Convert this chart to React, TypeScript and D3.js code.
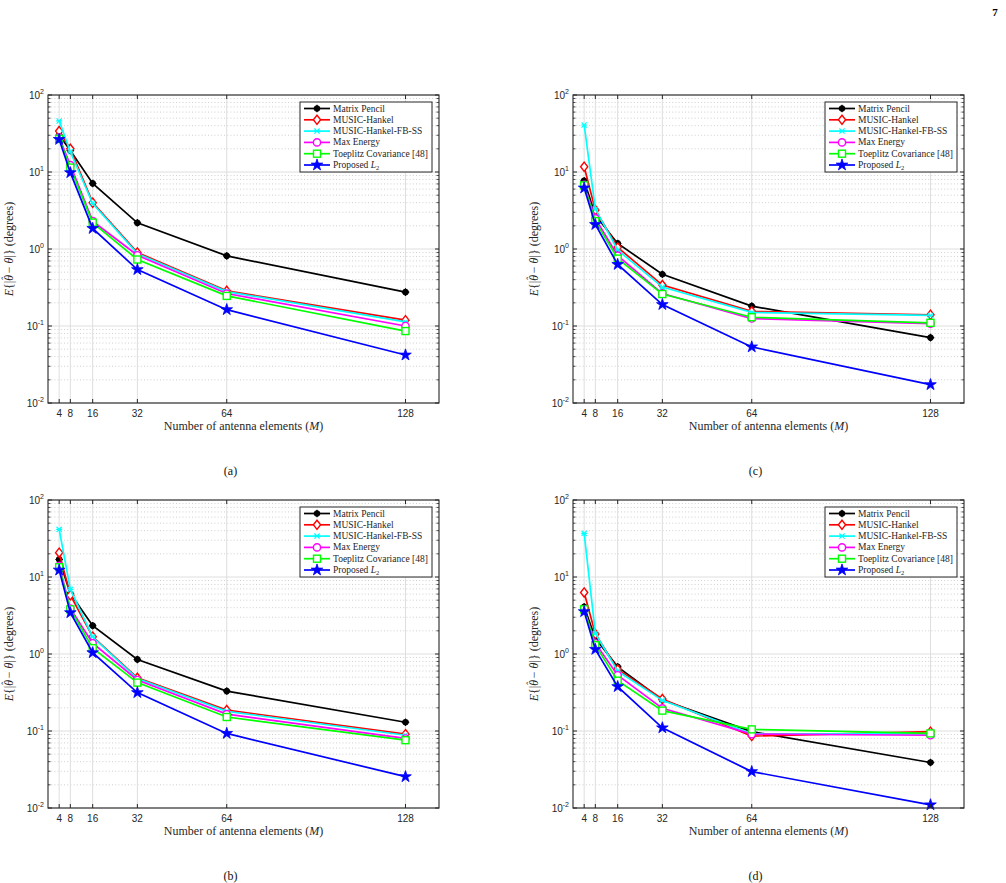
import * as d3 from "d3";
import React from "react";

// Array sizes M on the x axis
const elements = [4, 8, 16, 32, 64, 128];
const decades = [-2, -1, 0, 1, 2];

const seriesNames = [
  "Matrix Pencil",
  "MUSIC-Hankel",
  "MUSIC-Hankel-FB-SS",
  "Max Energy",
  "Toeplitz Covariance [48]",
  "Proposed L2",
];
const seriesColors = ["#000000", "#ff0000", "#00ffff", "#ff00ff", "#00ff00", "#0000ff"];
const seriesMarkers = ["dot", "diamond", "cross", "circle", "square", "star"];

// mean absolute error (degrees), one row per series in seriesNames order
const errorA = [
  [30, 19, 7.1, 2.19, 0.815, 0.275],
  [34, 20, 4.0, 0.9, 0.286, 0.119],
  [46, 18.3, 3.9, 0.87, 0.28, 0.113],
  [28, 12.3, 2.3, 0.83, 0.264, 0.1],
  [27, 11.4, 2.2, 0.73, 0.246, 0.086],
  [26.5, 9.8, 1.85, 0.54, 0.163, 0.042],
];
const errorB = [
  [16.9, 6.1, 2.33, 0.85, 0.33, 0.13],
  [20.7, 5.8, 1.68, 0.49, 0.187, 0.091],
  [41.6, 6.9, 1.66, 0.48, 0.18, 0.088],
  [14, 3.9, 1.38, 0.46, 0.166, 0.08],
  [13.4, 3.8, 1.19, 0.425, 0.152, 0.076],
  [12.3, 3.44, 1.04, 0.315, 0.093, 0.0255],
];
const errorC = [
  [7.7, 2.75, 1.18, 0.47, 0.181, 0.0707],
  [11.7, 3.2, 1.05, 0.34, 0.155, 0.14],
  [40.8, 3.3, 0.97, 0.32, 0.15, 0.137],
  [6.8, 2.5, 0.82, 0.264, 0.125, 0.107],
  [6.7, 2.3, 0.75, 0.26, 0.13, 0.11],
  [6.2, 2.08, 0.63, 0.19, 0.0535, 0.0173],
];
const errorD = [
  [4.1, 1.6, 0.68, 0.253, 0.098, 0.039],
  [6.3, 1.82, 0.63, 0.26, 0.086, 0.098],
  [36.9, 1.85, 0.6, 0.25, 0.092, 0.092],
  [3.7, 1.38, 0.53, 0.197, 0.091, 0.088],
  [3.8, 1.3, 0.45, 0.184, 0.105, 0.093],
  [3.55, 1.15, 0.377, 0.11, 0.0297, 0.011],
];

const W = 391;
const H = 308;
const AXIS = "#262626";
const sans: React.CSSProperties = { fontFamily: "Liberation Sans, Arial, sans-serif" };
const serif: React.CSSProperties = { fontFamily: "Liberation Serif, Times New Roman, serif" };

const Marker: React.FC<{ kind: string; color: string; x: number; y: number }> = ({ kind, color, x, y }) => {
  const t = `translate(${x},${y})`;
  switch (kind) {
    case "dot":
      return (
        <g transform={t} stroke={color} strokeWidth={1.1}>
          <circle r={2.8} fill={color} />
          <path d="M-3.8,0H3.8M0,-3.8V3.8" />
        </g>
      );
    case "diamond":
      return <path transform={t} d="M0,-4.6L3.6,0L0,4.6L-3.6,0Z" fill="white" stroke={color} strokeWidth={1.4} />;
    case "cross":
      return <path transform={t} d="M-2.6,-2.6L2.6,2.6M-2.6,2.6L2.6,-2.6M-3,0H3" stroke={color} strokeWidth={1.2} />;
    case "circle":
      return <circle transform={t} r={3.6} fill="white" stroke={color} strokeWidth={1.4} />;
    case "square":
      return <rect transform={t} x={-3.5} y={-3.5} width={7} height={7} fill="white" stroke={color} strokeWidth={1.4} />;
    default:
      return <path transform={t} d={d3.symbol(d3.symbolStar, 42)()!} fill={color} stroke={color} strokeWidth={0.8} />;
  }
};

const Panel: React.FC<{ left: number; top: number; data: number[][]; tag: string }> = ({ left, top, data, tag }) => {
  const x = d3.scaleLinear().domain([0, 140]).range([0, W]);
  const y = d3.scaleLog().domain([1e-2, 1e2]).range([H, 0]);
  const minor: number[] = [];
  decades.slice(0, -1).forEach((e) => {
    for (let k = 2; k <= 9; k++) minor.push(k * Math.pow(10, e));
  });
  const line = d3
    .line<number>()
    .x((_, i) => x(elements[i]))
    .y((v) => y(v));
  const legX = W - 7 - 132;
  const legY = 7;

  return (
    <g transform={`translate(${left},${top})`}>
      <rect width={W} height={H} fill="white" />
      {minor.map((v) => (
        <line key={"m" + v} x1={0} x2={W} y1={y(v)} y2={y(v)} stroke="#c4c4c4" strokeWidth={0.8} strokeDasharray="1,2.2" />
      ))}
      {decades.map((e) => (
        <line key={"g" + e} x1={0} x2={W} y1={y(Math.pow(10, e))} y2={y(Math.pow(10, e))} stroke="#dedede" strokeWidth={1} />
      ))}
      {elements.map((m) => (
        <line key={"v" + m} x1={x(m)} x2={x(m)} y1={0} y2={H} stroke="#dedede" strokeWidth={1} />
      ))}

      {data.map((row, s) => (
        <g key={s}>
          <path d={line(row)!} fill="none" stroke={seriesColors[s]} strokeWidth={1.7} />
          {row.map((v, i) => (
            <Marker key={i} kind={seriesMarkers[s]} color={seriesColors[s]} x={x(elements[i])} y={y(v)} />
          ))}
        </g>
      ))}

      {/* axes box and ticks */}
      <rect width={W} height={H} fill="none" stroke={AXIS} strokeWidth={1.1} />
      {minor.map((v) => (
        <g key={"mt" + v} stroke={AXIS} strokeWidth={0.8}>
          <line x1={0} x2={2.5} y1={y(v)} y2={y(v)} />
          <line x1={W - 2.5} x2={W} y1={y(v)} y2={y(v)} />
        </g>
      ))}
      {decades.map((e) => {
        const yy = y(Math.pow(10, e));
        return (
          <g key={"yt" + e}>
            <line x1={0} x2={4} y1={yy} y2={yy} stroke={AXIS} />
            <line x1={W - 4} x2={W} y1={yy} y2={yy} stroke={AXIS} />
            <text x={-4} y={yy + 4} textAnchor="end" style={sans} fontSize={10} fill={AXIS}>
              10
              <tspan dy={-5} fontSize={7}>
                {e}
              </tspan>
            </text>
          </g>
        );
      })}
      {elements.map((m) => (
        <g key={"xt" + m}>
          <line x1={x(m)} x2={x(m)} y1={H} y2={H - 4} stroke={AXIS} />
          <line x1={x(m)} x2={x(m)} y1={0} y2={4} stroke={AXIS} />
          <text x={x(m)} y={H + 14} textAnchor="middle" style={sans} fontSize={10} fill={AXIS}>
            {m}
          </text>
        </g>
      ))}

      <text x={W / 2} y={H + 27} textAnchor="middle" style={serif} fontSize={12} fill={AXIS}>
        Number of antenna elements (<tspan fontStyle="italic">M</tspan>)
      </text>
      <text transform={`translate(-35,${H / 2}) rotate(-90)`} textAnchor="middle" style={serif} fontSize={12} fill={AXIS}>
        <tspan fontStyle="italic">E</tspan>
        {"{|"}
        <tspan fontStyle="italic">{"\u03b8"}</tspan>
        <tspan dx={-5.2} dy={-4} fontSize={10}>
          {"\u02c6"}
        </tspan>
        <tspan dx={0.5} dy={4}>
          {" \u2212 "}
        </tspan>
        <tspan fontStyle="italic">{"\u03b8"}</tspan>
        {"|} (degrees)"}
      </text>

      {/* legend */}
      <g transform={`translate(${legX},${legY})`}>
        <rect width={132} height={70} fill="white" stroke={AXIS} strokeWidth={1} />
        {seriesNames.map((name, s) => {
          const ry = 6.5 + s * 11.3;
          return (
            <g key={name}>
              <line x1={4} x2={30} y1={ry} y2={ry} stroke={seriesColors[s]} strokeWidth={1.7} />
              <Marker kind={seriesMarkers[s]} color={seriesColors[s]} x={17} y={ry} />
              <text x={33} y={ry + 3} style={serif} fontSize={9.5} fill={AXIS}>
                {s === 5 ? (
                  <>
                    Proposed <tspan fontStyle="italic">L</tspan>
                    <tspan dy={2} fontSize={6.5}>
                      2
                    </tspan>
                  </>
                ) : (
                  name
                )}
              </text>
            </g>
          );
        })}
      </g>

      <text x={W / 2 - 13} y={H + 72} textAnchor="middle" style={serif} fontSize={12} fill="#111">
        ({tag})
      </text>
    </g>
  );
};

export default function App() {
  return (
    <svg width={1006} height={883} style={{ position: "absolute", left: 0, top: 0, background: "white" }}>
      <rect width={1006} height={883} fill="white" />
      <text x={995} y={16} textAnchor="middle" style={serif} fontWeight="bold" fontSize={11}>
        7
      </text>
      <Panel left={48} top={95} data={errorA} tag="a" />
      <Panel left={573} top={95} data={errorC} tag="c" />
      <Panel left={48} top={500} data={errorB} tag="b" />
      <Panel left={573} top={500} data={errorD} tag="d" />
    </svg>
  );
}
